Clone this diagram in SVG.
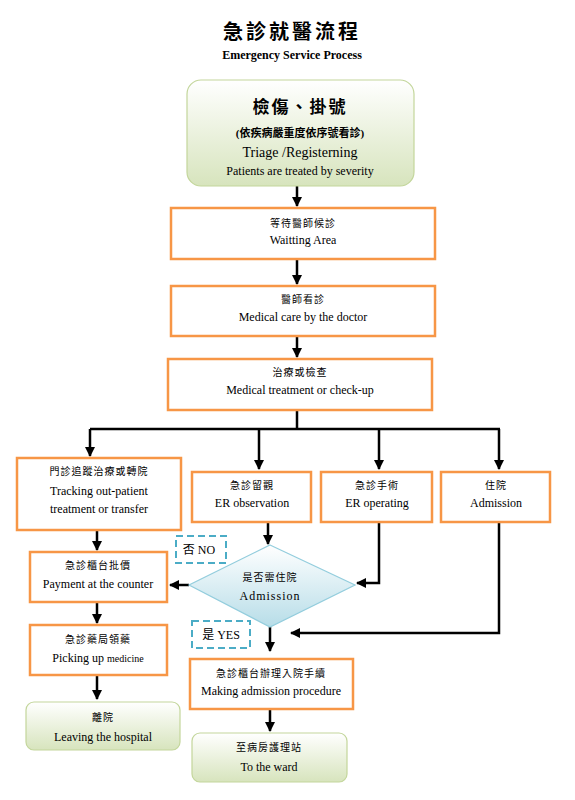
<svg xmlns="http://www.w3.org/2000/svg" width="575" height="800" viewBox="0 0 575 800">
<style>
text{font-family:"Liberation Serif","Noto Sans CJK TC",serif;fill:#000;text-anchor:middle}
.cj{font-size:10px;letter-spacing:1px}
.en{font-size:12px}
.box{fill:#fff;stroke:#f79646;stroke-width:2.5}
.gbox{fill:url(#gg);stroke:#c3d69b;stroke-width:1.2}
.dash{fill:#fff;stroke:#4bacc6;stroke-width:2;stroke-dasharray:7,4}
.ln{fill:none;stroke:#000;stroke-width:2.5}
</style>
<defs>
<linearGradient id="gg" x1="0" y1="0" x2="0" y2="1"><stop offset="0" stop-color="#ffffff"/><stop offset="1" stop-color="#d7e4bd"/></linearGradient>
<linearGradient id="bg" x1="0" y1="0" x2="0" y2="1"><stop offset="0" stop-color="#ffffff"/><stop offset="1" stop-color="#b7dde8"/></linearGradient>
<marker id="ah" viewBox="0 0 10 10" refX="9" refY="5" markerWidth="4" markerHeight="4" orient="auto" markerUnits="strokeWidth"><path d="M0,0L10,5L0,10z" fill="#000"/></marker>
</defs>
<g id="title">
<text x="292" y="39" style="font-size:20px;font-weight:bold;letter-spacing:3px">急診就醫流程</text>
<text x="292" y="59" style="font-size:12px;font-weight:bold">Emergency Service Process</text>
</g>
<g id="connectors">
<path class="ln" d="M297,186V206" marker-end="url(#ah)"/>
<path class="ln" d="M297,260V284" marker-end="url(#ah)"/>
<path class="ln" d="M297,337V357" marker-end="url(#ah)"/>
<path class="ln" d="M297,411V429"/>
<path class="ln" d="M90,429H500"/>
<path class="ln" d="M90,429V456" marker-end="url(#ah)"/>
<path class="ln" d="M259,429V469" marker-end="url(#ah)"/>
<path class="ln" d="M379,429V469" marker-end="url(#ah)"/>
<path class="ln" d="M499,429V469" marker-end="url(#ah)"/>
<path class="ln" d="M268,523V544" marker-end="url(#ah)"/>
<path class="ln" d="M379,523V583H357" marker-end="url(#ah)"/>
<path class="ln" d="M499,523V633H291" marker-end="url(#ah)"/>
<path class="ln" d="M189,585H170" marker-end="url(#ah)"/>
<path class="ln" d="M270,627V651" marker-end="url(#ah)"/>
<path class="ln" d="M270,709V731" marker-end="url(#ah)"/>
<path class="ln" d="M97,531V550" marker-end="url(#ah)"/>
<path class="ln" d="M97,603V623" marker-end="url(#ah)"/>
<path class="ln" d="M97,676V699" marker-end="url(#ah)"/>
</g>
<g id="triage">
<rect class="gbox" x="187" y="80" width="227" height="106" rx="14"/>
<text x="300" y="113" style="font-size:17px;font-weight:bold;letter-spacing:2px">檢傷、掛號</text>
<text x="300" y="137" style="font-size:11px;font-weight:bold">(依疾病嚴重度依序號看診)</text>
<text x="300" y="157" style="font-size:14px">Triage /Registerning</text>
<text x="300" y="175" style="font-size:12px">Patients  are treated  by severity</text>
</g>
<g id="waiting">
<rect class="box" x="171" y="208" width="264" height="51"/>
<text class="cj" x="303" y="227">等待醫師候診</text>
<text class="en" x="303" y="244">Waitting Area</text>
</g>
<g id="doctor">
<rect class="box" x="171" y="286" width="264" height="50"/>
<text class="cj" x="303" y="303">醫師看診</text>
<text class="en" x="303" y="321">Medical care by the doctor</text>
</g>
<g id="treatment">
<rect class="box" x="168" y="359" width="264" height="51"/>
<text class="cj" x="300" y="376">治療或檢查</text>
<text class="en" x="300" y="394">Medical treatment or check-up</text>
</g>
<g id="tracking">
<rect class="box" x="17" y="458" width="164" height="72"/>
<text class="cj" x="99" y="475">門診追蹤治療或轉院</text>
<text class="en" x="99" y="495">Tracking out-patient</text>
<text class="en" x="99" y="513">treatment or transfer</text>
</g>
<g id="observation">
<rect class="box" x="192" y="472" width="119" height="50"/>
<text class="cj" x="252" y="489">急診留觀</text>
<text class="en" x="252" y="507">ER observation</text>
</g>
<g id="operating">
<rect class="box" x="321" y="472" width="111" height="50"/>
<text class="cj" x="377" y="489">急診手術</text>
<text class="en" x="377" y="507">ER operating</text>
</g>
<g id="admission">
<rect class="box" x="441" y="472" width="109" height="50"/>
<text class="cj" x="496" y="489">住院</text>
<text class="en" x="496" y="507">Admission</text>
</g>
<g id="no-label">
<rect class="dash" x="176" y="536" width="50" height="27"/>
<text class="en" x="199" y="554">否 NO</text>
</g>
<g id="decision">
<path d="M270,545L355,585L270,627L189,585z" fill="url(#bg)" stroke="#93cddd" stroke-width="1.2"/>
<text class="cj" x="270" y="581">是否需住院</text>
<text x="270" y="600" style="font-size:12px;letter-spacing:1px">Admission</text>
</g>
<g id="yes-label">
<rect class="dash" x="192" y="621" width="58" height="27"/>
<text class="en" x="221" y="639">是 YES</text>
</g>
<g id="payment">
<rect class="box" x="30" y="552" width="137" height="50"/>
<text class="cj" x="98" y="569">急診櫃台批價</text>
<text class="en" x="98" y="588">Payment at the counter</text>
</g>
<g id="medicine">
<rect class="box" x="30" y="625" width="137" height="50"/>
<text class="cj" x="98" y="643">急診藥局領藥</text>
<text class="en" x="98" y="662">Picking up <tspan style="font-size:10px">medicine</tspan></text>
</g>
<g id="leaving">
<rect class="gbox" x="26" y="702" width="154" height="48" rx="8"/>
<text class="cj" x="103" y="721">離院</text>
<text class="en" x="103" y="741">Leaving  the hospital</text>
</g>
<g id="procedure">
<rect class="box" x="190" y="659" width="163" height="50"/>
<text class="cj" x="271" y="677">急診櫃台辦理入院手續</text>
<text class="en" x="271" y="695">Making admission procedure</text>
</g>
<g id="ward">
<rect class="gbox" x="192" y="733" width="155" height="49" rx="8"/>
<text class="cj" x="269" y="751">至病房護理站</text>
<text class="en" x="269" y="771">To the ward</text>
</g>
</svg>
